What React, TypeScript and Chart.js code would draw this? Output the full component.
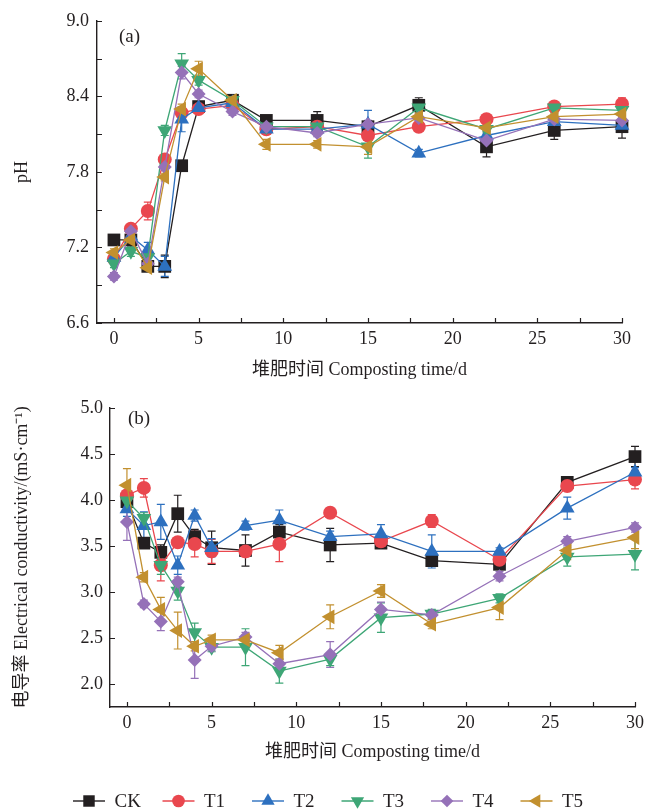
import React, { useEffect, useRef } from 'react';
import { Chart, registerables } from 'chart.js';
import { drawPoint } from 'chart.js/helpers';

Chart.register(...registerables);

// ---------------- data ----------------
const days = [0, 1, 2, 3, 4, 5, 7, 9, 12, 15, 18, 22, 26, 30];
const seriesNames = ['CK', 'T1', 'T2', 'T3', 'T4', 'T5'];

const phCK = [7.26, 7.26, 7.05, 7.05, 7.85, 8.32, 8.37, 8.21, 8.21, 8.16, 8.33, 8.0, 8.13, 8.16];
const phT1 = [7.11, 7.35, 7.49, 7.9, 8.27, 8.3, 8.33, 8.14, 8.16, 8.09, 8.16, 8.22, 8.32, 8.34];
const phT2 = [7.12, 7.29, 7.18, 7.05, 8.22, 8.31, 8.35, 8.14, 8.14, 8.18, 7.95, 8.09, 8.2, 8.17];
const phT3 = [7.07, 7.17, 7.12, 8.13, 8.66, 8.53, 8.37, 8.16, 8.16, 8.0, 8.31, 8.14, 8.31, 8.29];
const phT4 = [6.97, 7.33, 7.07, 7.84, 8.59, 8.42, 8.28, 8.16, 8.11, 8.18, 8.23, 8.05, 8.22, 8.21];
const phT5 = [7.16, 7.26, 7.04, 7.76, 8.3, 8.62, 8.37, 8.02, 8.02, 8.0, 8.24, 8.15, 8.24, 8.26];

const phErrCK = [0.03, 0.03, 0.04, 0.09, 0.02, 0.03, 0.03, 0.03, 0.07, 0.03, 0.06, 0.08, 0.07, 0.09];
const phErrT1 = [0.03, 0.03, 0.07, 0.04, 0.03, 0.03, 0.02, 0.03, 0.03, 0.03, 0.03, 0.03, 0.04, 0.05];
const phErrT2 = [0.03, 0.04, 0.06, 0.08, 0.1, 0.03, 0.03, 0.03, 0.03, 0.11, 0.03, 0.03, 0.04, 0.05];
const phErrT3 = [0.03, 0.04, 0.03, 0.04, 0.08, 0.04, 0.03, 0.03, 0.03, 0.09, 0.03, 0.03, 0.04, 0.04];
const phErrT4 = [0.03, 0.03, 0.06, 0.03, 0.05, 0.03, 0.03, 0.03, 0.03, 0.03, 0.03, 0.03, 0.03, 0.03];
const phErrT5 = [0.03, 0.03, 0.03, 0.03, 0.04, 0.06, 0.03, 0.04, 0.03, 0.06, 0.03, 0.03, 0.03, 0.03];

const ecCK = [3.98, 3.53, 3.43, 3.85, 3.6, 3.48, 3.45, 3.65, 3.51, 3.53, 3.34, 3.3, 4.19, 4.47];
const ecT1 = [4.05, 4.13, 3.29, 3.54, 3.52, 3.44, 3.44, 3.52, 3.86, 3.55, 3.77, 3.35, 4.15, 4.22];
const ecT2 = [3.9, 3.72, 3.76, 3.29, 3.83, 3.48, 3.72, 3.78, 3.6, 3.63, 3.44, 3.44, 3.91, 4.3];
const ecT3 = [3.99, 3.8, 3.29, 3.01, 2.56, 2.4, 2.4, 2.14, 2.27, 2.72, 2.76, 2.93, 3.38, 3.41];
const ecT4 = [3.76, 2.87, 2.68, 3.11, 2.26, 2.41, 2.51, 2.22, 2.32, 2.81, 2.75, 3.17, 3.55, 3.7];
const ecT5 = [4.16, 3.16, 2.81, 2.58, 2.41, 2.48, 2.48, 2.34, 2.73, 3.01, 2.65, 2.83, 3.45, 3.59];

const ecErrCK = [0.1, 0.05, 0.08, 0.2, 0.08, 0.18, 0.17, 0.08, 0.18, 0.05, 0.05, 0.05, 0.05, 0.11];
const ecErrT1 = [0.1, 0.1, 0.17, 0.05, 0.14, 0.13, 0.06, 0.19, 0.04, 0.05, 0.07, 0.04, 0.05, 0.1];
const ecErrT2 = [0.08, 0.15, 0.19, 0.1, 0.06, 0.1, 0.05, 0.11, 0.06, 0.1, 0.18, 0.04, 0.12, 0.05];
const ecErrT3 = [0.05, 0.06, 0.1, 0.1, 0.1, 0.05, 0.2, 0.13, 0.07, 0.16, 0.05, 0.05, 0.1, 0.17];
const ecErrT4 = [0.2, 0.04, 0.1, 0.05, 0.2, 0.05, 0.05, 0.05, 0.14, 0.08, 0.05, 0.05, 0.05, 0.05];
const ecErrT5 = [0.18, 0.05, 0.13, 0.2, 0.05, 0.05, 0.05, 0.08, 0.13, 0.07, 0.05, 0.13, 0.1, 0.12];

const xTicks = [0, 5, 10, 15, 20, 25, 30];
const xMinorTicks = [2.5, 7.5, 12.5, 17.5, 22.5, 27.5];
const phTicks = [6.6, 7.2, 7.8, 8.4, 9.0];
const phMinorTicks = [6.9, 7.5, 8.1, 8.7];
const ecTicks = [2.0, 2.5, 3.0, 3.5, 4.0, 4.5, 5.0];

const xTitle = '堆肥时间 Composting time/d';
const phTitle = 'pH';
const ecTitle = '电导率 Electrical conductivity/(mS·cm⁻¹)';

// ---------------- styles ----------------
const seriesColors = ['#231f20', '#e9474e', '#2d70bf', '#3ea676', '#9571b8', '#c2902f'];
const pointStyles = ['rect', 'circle', 'triangle', 'triangle', 'rectRot', 'triangle'];
const pointRotations = [0, 0, 0, 180, 0, 270];
const pointRadii = [9, 7, 8.5, 8.5, 7, 8.5];

const FONT = "'Liberation Serif', 'Noto Sans CJK SC', serif";
const INK = '#231f20';

// ---------------- plugins ----------------
const errorBarPlugin = {
  id: 'errorBars',
  beforeDatasetsDraw(chart: any) {
    const { ctx } = chart;
    const xs = chart.scales.x;
    const ys = chart.scales.y;
    const metas = chart.getSortedVisibleDatasetMetas();
    for (let m = metas.length - 1; m >= 0; m--) {
      const ds: any = chart.data.datasets[metas[m].index];
      const errs: number[] = ds.errors || [];
      ctx.save();
      ctx.strokeStyle = ds.borderColor;
      ctx.lineWidth = 1.2;
      ds.data.forEach((p: any, j: number) => {
        const e = errs[j];
        if (!e) return;
        const px = xs.getPixelForValue(p.x);
        const y1 = ys.getPixelForValue(p.y - e);
        const y2 = ys.getPixelForValue(p.y + e);
        ctx.beginPath();
        ctx.moveTo(px, y1);
        ctx.lineTo(px, y2);
        ctx.moveTo(px - 4, y1);
        ctx.lineTo(px + 4, y1);
        ctx.moveTo(px - 4, y2);
        ctx.lineTo(px + 4, y2);
        ctx.stroke();
      });
      ctx.restore();
    }
  },
};

const tickMarkPlugin = {
  id: 'tickMarks',
  afterDraw(chart: any, _args: any, opts: any) {
    const { ctx, chartArea } = chart;
    const xs = chart.scales.x;
    const ys = chart.scales.y;
    ctx.save();
    ctx.strokeStyle = INK;
    ctx.lineWidth = 1.2;
    ctx.beginPath();
    (opts.x || []).forEach((v: number) => {
      const px = Math.round(xs.getPixelForValue(v)) + 0.5;
      ctx.moveTo(px, chartArea.bottom);
      ctx.lineTo(px, chartArea.bottom - 5);
    });
    (opts.y || []).forEach((v: number) => {
      const py = Math.round(ys.getPixelForValue(v)) + 0.5;
      ctx.moveTo(chartArea.left, py);
      ctx.lineTo(chartArea.left + 5, py);
    });
    ctx.stroke();
    ctx.restore();
  },
};

const panelLabelPlugin = {
  id: 'panelLabel',
  afterDraw(chart: any, _args: any, opts: any) {
    const { ctx, chartArea } = chart;
    ctx.save();
    ctx.fillStyle = INK;
    ctx.font = `19px ${FONT}`;
    ctx.textBaseline = 'middle';
    ctx.textAlign = 'left';
    ctx.fillText(opts.text, chartArea.left + opts.dx, chartArea.top + opts.dy);
    ctx.restore();
  },
};

const lineLegendPlugin = {
  id: 'lineLegend',
  afterDraw(chart: any, _args: any, opts: any) {
    if (!opts || !opts.display) return;
    const { ctx } = chart;
    chart.data.datasets.forEach((ds: any, i: number) => {
      const x0 = opts.x0 + i * opts.pitch;
      const y = opts.y;
      ctx.save();
      ctx.strokeStyle = ds.borderColor;
      ctx.lineWidth = 1.4;
      ctx.beginPath();
      ctx.moveTo(x0, y);
      ctx.lineTo(x0 + opts.lineLen, y);
      ctx.stroke();
      ctx.fillStyle = ds.pointBackgroundColor;
      ctx.strokeStyle = ds.pointBorderColor;
      drawPoint(
        ctx,
        { pointStyle: ds.pointStyle, rotation: ds.pointRotation, radius: ds.pointRadius * 0.9, borderWidth: 0 } as any,
        x0 + opts.lineLen / 2,
        y
      );
      ctx.fillStyle = INK;
      ctx.font = `19px ${FONT}`;
      ctx.textBaseline = 'middle';
      ctx.textAlign = 'left';
      ctx.fillText(ds.label, x0 + opts.lineLen + opts.gap, y + 1);
      ctx.restore();
    });
  },
};

function makeDatasets(values: number[][], errors: number[][]) {
  return values.map((vals, i) => ({
    label: seriesNames[i],
    data: days.map((d, j) => ({ x: d, y: vals[j] })),
    errors: errors[i],
    borderColor: seriesColors[i],
    backgroundColor: seriesColors[i],
    pointBackgroundColor: seriesColors[i],
    pointBorderColor: seriesColors[i],
    pointBorderWidth: 0,
    borderWidth: 1.3,
    pointStyle: pointStyles[i],
    pointRotation: pointRotations[i],
    pointRadius: pointRadii[i],
    pointHoverRadius: pointRadii[i],
    tension: 0,
    clip: false,
    order: values.length - 1 - i,
  }));
}

function makeConfig(p: {
  values: number[][];
  errors: number[][];
  yMin: number;
  yMax: number;
  yTicks: number[];
  yMinor: number[];
  yTitle: string;
  yWidth: number;
  yTitlePad: number;
  yLabelPad: number;
  padding: any;
  xHeight: number;
  xTitlePadBottom: number;
  panel: string;
  panelDx: number;
  panelDy: number;
  legend: any;
}): any {
  const tickFont = { family: FONT, size: 18 };
  return {
    type: 'line',
    data: { datasets: makeDatasets(p.values, p.errors) },
    plugins: [errorBarPlugin, tickMarkPlugin, panelLabelPlugin, lineLegendPlugin],
    options: {
      responsive: false,
      animation: false,
      events: [],
      layout: { padding: p.padding },
      plugins: {
        legend: { display: false },
        tooltip: { enabled: false },
        tickMarks: { x: [...xTicks, ...xMinorTicks], y: [...p.yTicks, ...p.yMinor] },
        panelLabel: { text: p.panel, dx: p.panelDx, dy: p.panelDy },
        lineLegend: p.legend,
      },
      scales: {
        x: {
          type: 'linear',
          min: -1,
          max: 30,
          afterBuildTicks: (s: any) => {
            s.ticks = xTicks.map((v) => ({ value: v }));
          },
          afterFit: (s: any) => {
            s.height = p.xHeight;
          },
          ticks: {
            font: tickFont,
            color: INK,
            padding: 5,
            maxRotation: 0,
            autoSkip: false,
            callback: (v: any) => String(v),
          },
          grid: { display: false, drawTicks: false },
          border: { display: true, color: INK, width: 1.4 },
          title: {
            display: true,
            text: xTitle,
            font: { family: FONT, size: 18 },
            color: INK,
            padding: { top: 0, bottom: p.xTitlePadBottom },
          },
        },
        y: {
          type: 'linear',
          min: p.yMin,
          max: p.yMax,
          afterBuildTicks: (s: any) => {
            s.ticks = p.yTicks.map((v) => ({ value: v }));
          },
          afterFit: (s: any) => {
            s.width = p.yWidth;
          },
          ticks: {
            font: tickFont,
            color: INK,
            padding: p.yLabelPad,
            autoSkip: false,
            callback: (v: any) => Number(v).toFixed(1),
          },
          grid: { display: false, drawTicks: false },
          border: { display: true, color: INK, width: 1.4 },
          title: {
            display: true,
            text: p.yTitle,
            font: { family: FONT, size: 18 },
            color: INK,
            padding: { top: p.yTitlePad, bottom: 0 },
          },
        },
      },
    },
  };
}

export default function App() {
  const topRef = useRef<HTMLCanvasElement | null>(null);
  const botRef = useRef<HTMLCanvasElement | null>(null);

  useEffect(() => {
    Chart.defaults.font.family = FONT;
    const top = new Chart(
      topRef.current as HTMLCanvasElement,
      makeConfig({
        values: [phCK, phT1, phT2, phT3, phT4, phT5],
        errors: [phErrCK, phErrT1, phErrT2, phErrT3, phErrT4, phErrT5],
        yMin: 6.6,
        yMax: 9.0,
        yTicks: phTicks,
        yMinor: phMinorTicks,
        yTitle: phTitle,
        yWidth: 97,
        yTitlePad: 11,
        yLabelPad: 8,
        padding: { top: 21, right: 27, bottom: 7, left: 0 },
        xHeight: 60,
        xTitlePadBottom: 2,
        panel: '(a)',
        panelDx: 22,
        panelDy: 16,
        legend: { display: false },
      })
    );
    const bot = new Chart(
      botRef.current as HTMLCanvasElement,
      makeConfig({
        values: [ecCK, ecT1, ecT2, ecT3, ecT4, ecT5],
        errors: [ecErrCK, ecErrT1, ecErrT2, ecErrT3, ecErrT4, ecErrT5],
        yMin: 1.75,
        yMax: 5.0,
        yTicks: ecTicks,
        yMinor: [],
        yTitle: ecTitle,
        yWidth: 110,
        yTitlePad: 11,
        yLabelPad: 7,
        padding: { top: 15, right: 14, bottom: 43, left: 0 },
        xHeight: 60,
        xTitlePadBottom: 4,
        panel: '(b)',
        panelDx: 18,
        panelDy: 11,
        legend: { display: true, x0: 73, y: 411, pitch: 89.5, lineLen: 32, gap: 9.5 },
      })
    );
    return () => {
      top.destroy();
      bot.destroy();
    };
  }, []);

  return (
    <div style={{ position: 'absolute', left: 0, top: 0, width: 649, height: 810, background: '#fff' }}>
      <canvas ref={topRef} width={649} height={390} style={{ position: 'absolute', left: 0, top: 0, display: 'block' }} />
      <canvas ref={botRef} width={649} height={420} style={{ position: 'absolute', left: 0, top: 390, display: 'block' }} />
    </div>
  );
}
